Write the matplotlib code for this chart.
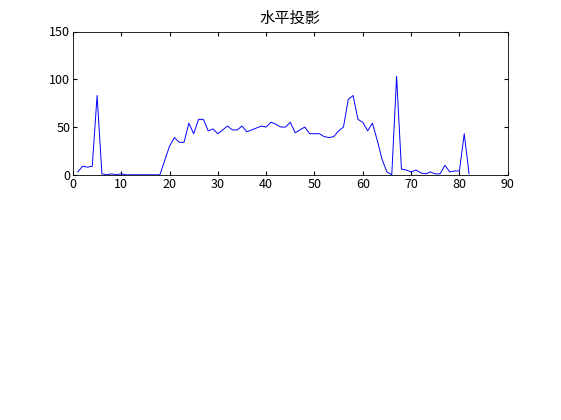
import matplotlib
matplotlib.use('Agg')
import matplotlib.pyplot as plt

# horizontal projection values, column 1..82
x = list(range(1, 83))
y = [3, 9, 8, 9, 83, 1, 0, 1, 0, 1,
     0, 0, 0, 0, 0, 0, 0, 0, 15, 30,
     39, 34, 34, 54, 43, 58, 58, 46, 48, 43,
     47, 51, 47, 47, 51, 45, 47, 49, 51, 50,
     55, 53, 50, 50, 55, 44, 47, 50, 43, 43,
     43, 40, 39, 40, 46, 50, 79, 83, 58, 55,
     46, 54, 36, 16, 3, 0, 103, 6, 5, 3,
     5, 2, 1, 3, 1, 1, 10, 3, 4, 4,
     43, 1]

plt.rcParams['font.family'] = ['Noto Sans CJK SC', 'DejaVu Sans']

fig = plt.figure(figsize=(5.61, 4.2), dpi=100)
ax = fig.add_axes([0.13, 0.5838, 0.775, 0.3412])
ax.plot(x, y, color='#0000ff', linewidth=0.7)
ax.set_xlim(0, 90)
ax.set_ylim(0, 150)
ax.set_xticks(range(0, 91, 10))
ax.set_yticks([0, 50, 100, 150])
ax.tick_params(direction='in', length=3, labelsize=9, top=True, right=True, pad=2)
for s in ax.spines.values():
    s.set_linewidth(0.6)
ax.set_title('水平投影', fontsize=11, pad=6)

fig.savefig('out.png', dpi=100)
